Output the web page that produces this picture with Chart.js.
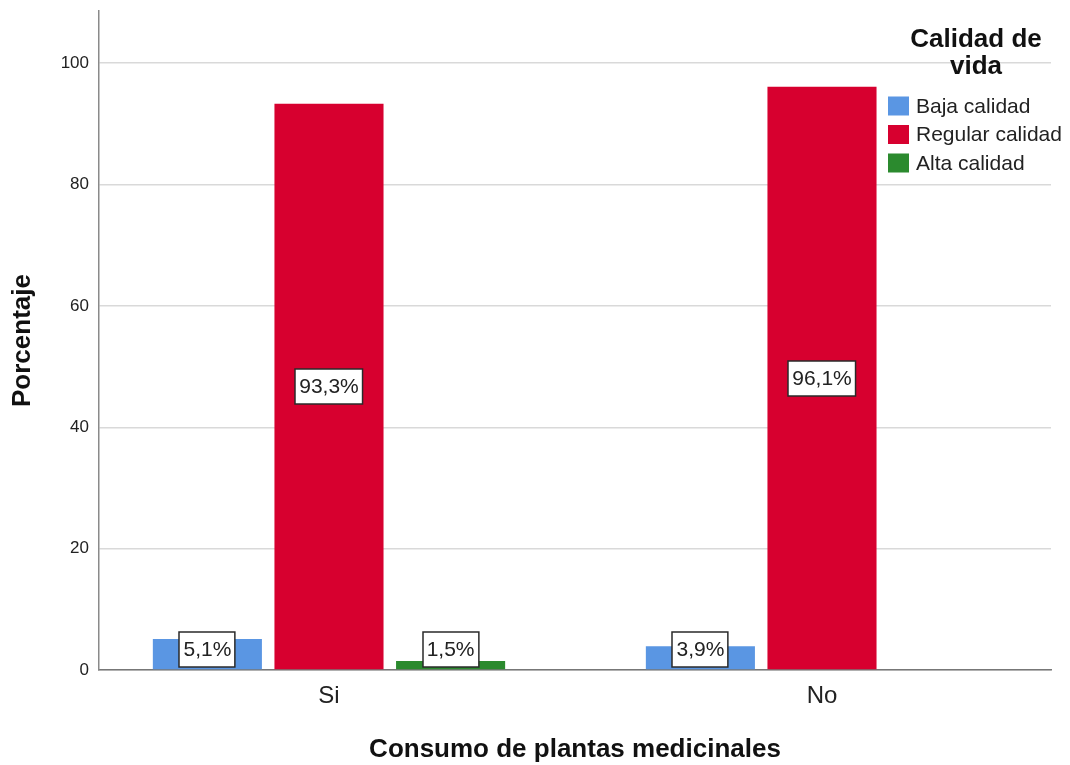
<!DOCTYPE html>
<html>
<head>
<meta charset="utf-8">
<script src="https://cdn.jsdelivr.net/npm/chart.js@4/dist/chart.umd.min.js"></script>
<style>
  html, body { margin: 0; padding: 0; background: #fff; }
  canvas { display: block; }
</style>
</head>
<body>
<canvas id="chart" width="1070" height="765"></canvas>
<script>
// categories and series
const categories = ['Si', 'No'];
const seriesNames = ['Baja calidad', 'Regular calidad', 'Alta calidad'];
const bajaValues = [5.1, 3.9];
const regularValues = [93.3, 96.1];
const altaValues = [1.5, 0];
const yTicks = [0, 20, 40, 60, 80, 100];

const seriesColors = ['#5a96e3', '#d7002f', '#2b8a2e'];
const FONT = '"Liberation Sans", Arial, sans-serif';

function toPoints(values) {
  return values.map((v, i) => ({x: i, y: v}));
}

function formatPct(v) {
  return v.toFixed(1).replace('.', ',') + '%';
}

// white boxed value labels in the middle of each bar
const valueLabels = {
  id: 'valueLabels',
  afterDatasetsDraw(chart) {
    const ctx = chart.ctx;
    ctx.save();
    ctx.font = '21px ' + FONT;
    ctx.textAlign = 'center';
    ctx.textBaseline = 'middle';
    chart.data.datasets.forEach((ds, di) => {
      const meta = chart.getDatasetMeta(di);
      meta.data.forEach((bar, i) => {
        const v = ds.data[i].y;
        if (!v) return;
        const text = formatPct(v);
        const w = ctx.measureText(text).width + 8;
        const h = 35;
        let cy = (bar.y + bar.base) / 2;
        cy = Math.min(cy, bar.base - 20);
        const x0 = Math.round(bar.x - w / 2);
        const y0 = Math.round(cy - h / 2);
        ctx.fillStyle = '#ffffff';
        ctx.fillRect(x0, y0, w, h);
        ctx.strokeStyle = '#2a2a2a';
        ctx.lineWidth = 1.5;
        ctx.strokeRect(x0, y0, w, h);
        ctx.fillStyle = '#222';
        ctx.fillText(text, bar.x, cy + 1);
      });
    });
    ctx.restore();
  }
};

// legend drawn over the top right of the plot, like the SPSS output
const cornerLegend = {
  id: 'cornerLegend',
  afterDraw(chart) {
    const ctx = chart.ctx;
    ctx.save();
    ctx.fillStyle = '#111';
    ctx.font = 'bold 26px ' + FONT;
    ctx.textAlign = 'center';
    ctx.textBaseline = 'middle';
    ctx.fillText('Calidad de', 976, 40);
    ctx.fillText('vida', 976, 67);

    ctx.font = '21px ' + FONT;
    ctx.textAlign = 'left';
    chart.data.datasets.forEach((ds, i) => {
      const cy = 106 + i * 28.5;
      ctx.fillStyle = ds.backgroundColor;
      ctx.fillRect(888, cy - 9.5, 21, 19);
      ctx.fillStyle = '#222';
      ctx.fillText(ds.label, 916, cy + 1);
    });
    ctx.restore();
  }
};

new Chart(document.getElementById('chart'), {
  type: 'bar',
  data: {
    datasets: [
      {label: seriesNames[0], data: toPoints(bajaValues), backgroundColor: seriesColors[0]},
      {label: seriesNames[1], data: toPoints(regularValues), backgroundColor: seriesColors[1]},
      {label: seriesNames[2], data: toPoints(altaValues), backgroundColor: seriesColors[2]},
    ],
  },
  options: {
    responsive: false,
    animation: false,
    devicePixelRatio: 1,
    categoryPercentage: 0.74,
    barPercentage: 0.897,
    layout: {padding: {left: 0, top: 11, right: 19, bottom: 0}},
    plugins: {
      legend: {display: false},
      tooltip: {enabled: false},
    },
    scales: {
      x: {
        type: 'linear',
        offset: false,
        min: -0.4665,
        max: 1.4645,
        afterBuildTicks(scale) {
          scale.ticks = categories.map((c, i) => ({value: i}));
        },
        afterFit(scale) {
          scale.height = 95;
          scale.paddingLeft = 0;
          scale.paddingRight = 0;
        },
        ticks: {
          callback: (v) => categories[v],
          font: {family: FONT, size: 24},
          color: '#222',
          padding: 12,
          maxRotation: 0,
        },
        grid: {display: false, drawTicks: false, offset: false},
        border: {color: '#777', width: 1.5},
        title: {
          display: true,
          text: 'Consumo de plantas medicinales',
          font: {family: FONT, size: 26, weight: 'bold'},
          color: '#111',
          padding: {top: 0, bottom: 0},
        },
      },
      y: {
        min: 0,
        max: 108.6,
        afterBuildTicks(scale) {
          scale.ticks = yTicks.map((v) => ({value: v}));
        },
        afterFit(scale) {
          scale.width = 99;
          scale.paddingTop = 0;
          scale.paddingBottom = 0;
        },
        ticks: {
          font: {family: FONT, size: 17},
          color: '#222',
          padding: 10,
        },
        grid: {color: '#d9d9d9', lineWidth: 1.5, drawTicks: false},
        border: {color: '#8a8a8a', width: 1.5},
        title: {
          display: true,
          text: 'Porcentaje',
          font: {family: FONT, size: 26, weight: 'bold'},
          color: '#111',
          padding: {top: 7, bottom: 0},
        },
      },
    },
  },
  plugins: [valueLabels, cornerLegend],
});
</script>
</body>
</html>
